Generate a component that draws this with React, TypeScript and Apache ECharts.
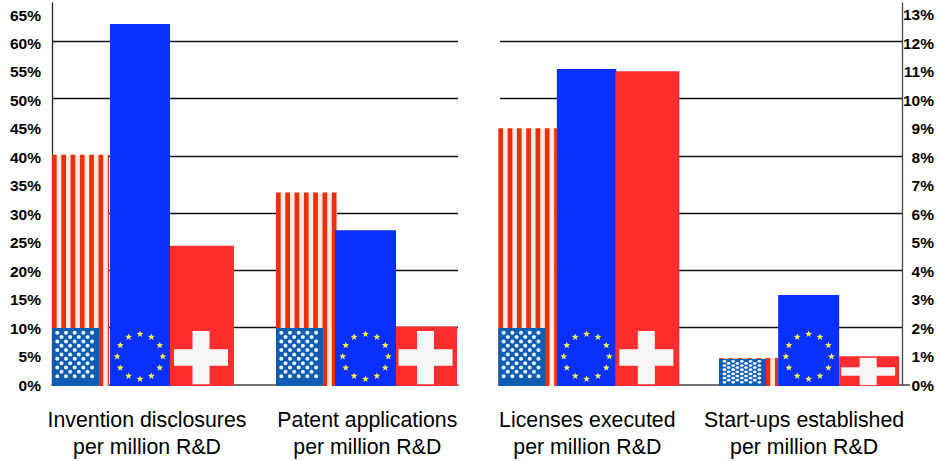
import React, { useEffect, useRef } from "react";
import * as echarts from "echarts";

const leftCategories = ["Invention disclosures\nper million R&D", "Patent applications\nper million R&D"];
const rightCategories = ["Licenses executed\nper million R&D", "Start-ups established\nper million R&D"];
const usLeft = [40.2, 33.6];
const euLeft = [63, 27];
const chLeft = [24.3, 10.2];
const usRight = [8.96, 0.94];
const euRight = [11.03, 3.14];
const chRight = [10.95, 1.0];
const leftTicks = [0, 5, 10, 15, 20, 25, 30, 35, 40, 45, 50, 55, 60, 65];
const rightTicks = [0, 1, 2, 3, 4, 5, 6, 7, 8, 9, 10, 11, 12, 13];

// layout: pixel offsets of bar edges from each group's centre [us, eu, ch]
const edgesLeft = [
  [[-91, -34], [-33, 27], [27, 91]],
  [[-90, -29], [-31, 30], [30, 91]],
];
const edgesRight = [
  [[-90.5, -32], [-32, 27.5], [26.5, 90.5]],
  [[-90, -31], [-31, 30], [30, 90]],
];
const FLAG_H = 58;
const BLACK = "#000";
const FONT = "'Liberation Sans', Arial, sans-serif";

function star(cx: number, cy: number, r: number) {
  const pts: number[][] = [];
  for (let i = 0; i < 10; i++) {
    const rad = i % 2 === 0 ? r : r * 0.42;
    const a = -Math.PI / 2 + (i * Math.PI) / 5;
    pts.push([cx + rad * Math.cos(a), cy + rad * Math.sin(a)]);
  }
  return { type: "polygon", shape: { points: pts }, style: { fill: "#f7f24a" } };
}

function rect(x: number, y: number, width: number, height: number, fill: string) {
  return { type: "rect", shape: { x, y, width, height }, style: { fill } };
}

function drawUS(x0: number, x1: number, top: number, bottom: number) {
  const w = x1 - x0;
  const children: any[] = [rect(x0, top, w, bottom - top, "#fbe9e4")];
  const period = 9.3;
  for (let x = x0; x < x1; x += period) {
    children.push(rect(x, top, Math.min(4.7, x1 - x), bottom - top, "#ea2f0c"));
  }
  const fh = Math.min(bottom - top, FLAG_H);
  const cTop = bottom - fh + (fh < FLAG_H ? 1 : 0);
  const cw = 47;
  children.push(rect(x0, cTop, cw, bottom - cTop, "#0e5db2"));
  const rows = 11;
  const k = fh / FLAG_H;
  for (let r = 0; r < rows; r++) {
    const cy = cTop + k * (4.7 + r * 4.35);
    const odd = r % 2 === 1;
    const n = odd ? 4 : 5;
    for (let c = 0; c < n; c++) {
      const cx = x0 + (odd ? 9.5 : 5.3) + c * 8.7;
      children.push({
        type: "ellipse",
        shape: { cx, cy, rx: 2, ry: Math.min(2, k * 2 + 0.4) },
        style: { fill: "#eef3fb" },
      });
    }
  }
  return children;
}

function drawEU(x0: number, x1: number, top: number, bottom: number) {
  const children: any[] = [rect(x0, top, x1 - x0, bottom - top, "#0a30ff")];
  const cx = (x0 + x1) / 2;
  const cy = bottom - 29.5;
  for (let i = 0; i < 12; i++) {
    const a = (i * Math.PI) / 6;
    children.push(star(cx + 22.8 * Math.sin(a), cy - 22.5 * Math.cos(a), 3.6));
  }
  return children;
}

function drawCH(x0: number, x1: number, top: number, bottom: number) {
  const w = x1 - x0;
  const children: any[] = [rect(x0, top, w, bottom - top, "#ff2d2d")];
  const fh = Math.min(bottom - top, FLAG_H);
  const ch = fh * 0.92;
  const cTop = bottom - fh + fh * 0.05;
  const cw = 54;
  const cx = x0 + w / 2 - 1;
  const armW = 17;
  const armH = ch * 0.31;
  children.push(rect(cx - armW / 2, cTop, armW, ch, "#f7f6f6"));
  children.push(rect(cx - cw / 2, cTop + (ch - armH) / 2, cw, armH, "#f7f6f6"));
  return children;
}

const painters = [drawUS, drawEU, drawCH];

function flagSeries(name: string, values: number[], country: number, panel: number) {
  const edges = panel === 0 ? edgesLeft : edgesRight;
  return {
    type: "custom",
    name,
    xAxisIndex: panel,
    yAxisIndex: panel * 2 + 1,
    clip: false,
    z: 3,
    encode: { x: 0, y: 1 },
    data: values.map((v, i) => [i, v]),
    renderItem: (params: any, api: any) => {
      const g = api.value(0);
      const [cx, top] = api.coord([g, api.value(1)]);
      const [, bottom] = api.coord([g, 0]);
      const [a, b] = edges[params.dataIndex][country];
      return {
        type: "group",
        children: painters[country](cx + a, cx + b, top, bottom + 1),
      };
    },
  };
}

const valueLabel = {
  color: BLACK,
  fontFamily: FONT,
  fontWeight: "bold" as const,
  fontSize: 15.5,
  padding: [3, 0, 0, 0],
};

function xAxis(grid: number, min: number, max: number, labels: string[], at: number[]) {
  return {
    type: "value",
    gridIndex: grid,
    min,
    max,
    splitLine: { show: false },
    axisTick: { show: false },
    axisLine: { show: true, onZero: false, lineStyle: { color: "#444", width: 1.5 } },
    axisLabel: {
      customValues: at,
      formatter: (v: number) => labels[at.indexOf(v)],
      color: BLACK,
      fontFamily: FONT,
      fontSize: 21.3,
      lineHeight: 27,
      margin: 21,
      hideOverlap: false,
    },
  };
}

function yLabelAxis(
  grid: number,
  max: number,
  ticks: number[],
  position: string,
  margin: number,
  lineColor: string,
  tickValues: number[],
) {
  return {
    type: "value",
    gridIndex: grid,
    position,
    min: 0,
    max,
    splitLine: { show: false },
    axisTick: {
      show: tickValues.length > 0,
      customValues: tickValues,
      length: 8,
      lineStyle: { color: "#444", width: 1.5 },
    },
    axisLine: { show: true, onZero: false, lineStyle: { color: lineColor, width: 1.3 } },
    axisLabel: {
      ...valueLabel,
      customValues: ticks,
      formatter: (v: number) => `${v}%`,
      margin,
      align: "right",
    },
  };
}

function ySplitAxis(grid: number, max: number, interval: number, position: string) {
  return {
    type: "value",
    gridIndex: grid,
    position,
    min: 0,
    max,
    interval,
    axisLine: { show: false, onZero: false },
    axisTick: { show: false },
    axisLabel: { show: false },
    splitLine: { show: true, showMinLine: false, showMaxLine: false, lineStyle: { color: "#111", width: 1.3 } },
  };
}

export default function App() {
  const ref = useRef<HTMLDivElement>(null);
  useEffect(() => {
    document.body.style.margin = "0";
    const chart = echarts.init(ref.current!, undefined, { renderer: "svg" });
    chart.setOption({
      animation: false,
      backgroundColor: "#fff",
      grid: [
        { left: 52, width: 406, top: 3, height: 382 },
        { left: 500, width: 402, top: 3, height: 382 },
      ],
      xAxis: [
        xAxis(0, -0.408, 1.4126, leftCategories, [0.018, 1.006]),
        xAxis(1, -0.4032, 1.4214, rightCategories, [-0.007, 0.977]),
      ],
      yAxis: [
        yLabelAxis(0, 67.11, leftTicks, "left", 11, "#222", []),
        ySplitAxis(0, 66.67, 10, "left"),
        yLabelAxis(1, 13.42, rightTicks, "right", 32, "#444", [0]),
        ySplitAxis(1, 13.333, 2, "right"),
      ],
      series: [
        flagSeries("United States", usLeft, 0, 0),
        flagSeries("European Union", euLeft, 1, 0),
        flagSeries("Switzerland", chLeft, 2, 0),
        flagSeries("United States", usRight, 0, 1),
        flagSeries("European Union", euRight, 1, 1),
        flagSeries("Switzerland", chRight, 2, 1),
      ],
    });
    return () => chart.dispose();
  }, []);
  return <div ref={ref} style={{ width: 940, height: 461 }} />;
}
